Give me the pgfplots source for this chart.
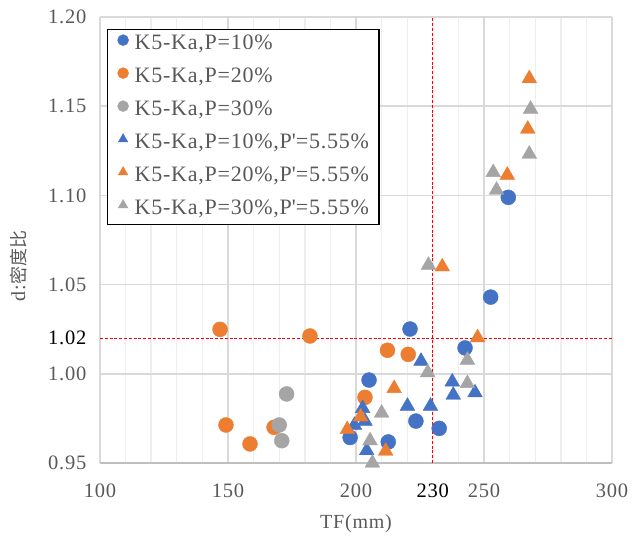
\documentclass[border=0pt]{standalone}
\usepackage{fontspec}
\setmainfont{Liberation Serif}[LetterSpace=4]
\newfontfamily\legfont{Liberation Serif}[LetterSpace=3.5]
\newfontfamily\cjk{Noto Sans CJK SC}[Scale=0.9]
\usepackage{pgfplots}
\pgfplotsset{compat=1.18}
\definecolor{cblue}{RGB}{68,114,196}
\definecolor{corange}{RGB}{237,125,49}
\definecolor{cgrey}{RGB}{165,165,165}
\definecolor{ctext}{RGB}{89,89,89}
\definecolor{gmaj}{RGB}{217,217,217}
\definecolor{gmin}{RGB}{238,238,238}
\definecolor{gaxis}{RGB}{191,191,191}
\begin{document}
\begin{tikzpicture}
\begin{axis}[
  scale only axis, width=512pt, height=446pt,
  xmin=100, xmax=300, ymin=0.95, ymax=1.20,
  clip=false,
  xtick={100,150,200,250,300}, minor x tick num=4,
  ytick={0.95,1.00,1.05,1.10,1.15,1.20},
  extra x ticks={230}, extra y ticks={1.02},
  extra tick style={grid=none, tick label style={text=black}},
  xmajorgrids, xminorgrids, ymajorgrids,
  major grid style={draw=gmaj, line width=1.6pt},
  minor grid style={draw=gmin, line width=1.4pt},
  axis line style={draw=none},
  major tick length=0pt, minor tick length=0pt,
  /pgf/number format/assume math mode=true,
  yticklabel style={/pgf/number format/fixed, /pgf/number format/fixed zerofill, /pgf/number format/precision=2},
  tick label style={font=\fontsize{20.5}{24}\selectfont, text=ctext},
  xticklabel style={yshift=-17pt},
  yticklabel style={xshift=-10pt},
  xlabel={TF(mm)},
  ylabel={d:{\cjk 密度比}},
  xlabel style={at={(axis description cs:0.5,0)}, yshift=-61pt, anchor=center, font=\fontsize{20}{24}\selectfont, text=ctext},
  ylabel style={at={(axis description cs:-0.16,0.4417)}, anchor=center, font=\fontsize{20}{24}\selectfont, text=ctext},
  legend cell align=left,
  legend style={at={(rel axis cs:0.0137,0.973)}, anchor=north west, draw=black, line width=1.2pt, fill=white,
    font=\legfont\fontsize{22}{22}\selectfont, text=ctext, inner xsep=10pt, inner ysep=5pt, row sep=13pt,
    nodes={inner sep=0pt, text height=15pt, text depth=5pt},
    /tikz/every odd column/.append style={column sep=6pt}},
  legend image code/.code={\draw[#1, mark size=5.5pt] plot coordinates {(8pt,4.5pt)};},
]
\coordinate (bl) at (rel axis cs:0,0);
\coordinate (tr) at (rel axis cs:1,1);
\addplot[forget plot, draw=gaxis, line width=2pt] coordinates {(100,0.95) (300,0.95)};
\addplot[forget plot, draw=red, line width=1pt, dash pattern=on 3pt off 1.8pt] coordinates {(230,0.95) (230,1.20)};
\addplot[forget plot, draw=red, line width=1pt, dash pattern=on 3pt off 1.8pt] coordinates {(100,1.02) (300,1.02)};

\addplot[only marks, mark=*, mark size=7.5pt, mark options={fill=cblue, draw=cblue, line width=0.4pt}, legend image post style={mark size=5.5pt}] coordinates {
(252.6,1.0430) (221.1,1.0251) (242.6,1.0145) (205.1,0.9965) (223.4,0.9735)
(232.5,0.9694) (197.7,0.9643) (212.6,0.9618) (259.5,1.0989)};
\addlegendentry{K5-Ka,P=10\%}
\addplot[only marks, mark=*, mark size=7.5pt, mark options={fill=corange, draw=corange, line width=0.4pt}, legend image post style={mark size=5.5pt}] coordinates {
(146.9,1.0249) (182.0,1.0212) (212.3,1.0132) (220.4,1.0109) (203.5,0.9868)
(149.2,0.9713) (158.6,0.9607) (168.0,0.9700)};
\addlegendentry{K5-Ka,P=20\%}
\addplot[only marks, mark=*, mark size=7.5pt, mark options={fill=cgrey, draw=cgrey, line width=0.4pt}, legend image post style={mark size=5.5pt}] coordinates {
(172.9,0.9887) (170.0,0.9713) (171.0,0.9625)};
\addlegendentry{K5-Ka,P=30\%}
\addplot[only marks, mark=triangle*, mark size=8.5pt, mark options={fill=cblue, draw=cblue, line width=0.4pt}, legend image post style={mark size=6pt}] coordinates {
(225.4,1.0071) (237.6,0.9955) (238.0,0.9881) (246.5,0.9894) (220.1,0.9819)
(229.1,0.9819) (202.6,0.9806) (203.5,0.9735) (199.4,0.9712) (204.2,0.9570)};
\addlegendentry{K5-Ka,P=10\%,P\textquotesingle=5.55\%}
\addplot[only marks, mark=triangle*, mark size=8.5pt, mark options={fill=corange, draw=corange, line width=0.4pt}, legend image post style={mark size=6pt}] coordinates {
(267.7,1.1655) (267.1,1.1372) (259.1,1.1114) (233.7,1.0600) (247.5,1.0203)
(214.9,0.9918) (201.8,0.9759) (196.6,0.9688) (211.6,0.9567)};
\addlegendentry{K5-Ka,P=20\%,P\textquotesingle=5.55\%}
\addplot[only marks, mark=triangle*, mark size=8.5pt, mark options={fill=cgrey, draw=cgrey, line width=0.4pt}, legend image post style={mark size=6pt}] coordinates {
(268.2,1.1484) (267.7,1.1232) (253.6,1.1129) (254.9,1.1030) (228.3,1.0609)
(243.5,1.0077) (228.0,1.0007) (243.5,0.9946) (210.0,0.9780) (205.5,0.9625) (206.4,0.9500)};
\addlegendentry{K5-Ka,P=30\%,P\textquotesingle=5.55\%}
\end{axis}
\pgfresetboundingbox
\path ([xshift=-100pt,yshift=-73pt]bl) rectangle ([xshift=20pt,yshift=17pt]tr);
\end{tikzpicture}
\end{document}
